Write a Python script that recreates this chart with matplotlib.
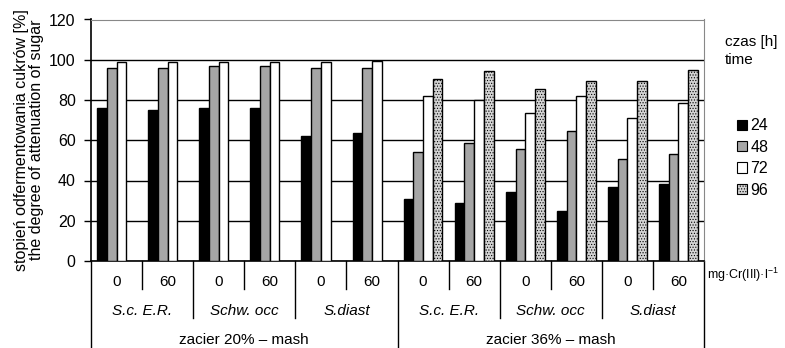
import matplotlib
matplotlib.use("Agg")
import matplotlib.pyplot as plt
import matplotlib.transforms as mtransforms
from matplotlib.patches import Patch
import numpy as np

plt.rcParams['font.family'] = ['Liberation Sans', 'DejaVu Sans']
plt.rcParams['hatch.color'] = '#808080'
plt.rcParams['hatch.linewidth'] = 0.5

# dawki Cr(III), drożdże, zaciery
doses = ["0", "60"] * 6
strains = ["S.c. E.R.", "Schw. occ", "S.diast"] * 2
mashes = ["zacier 20% – mash", "zacier 36% – mash"]
times = ["24", "48", "72", "96"]

# stopień odfermentowania [%] dla każdego czasu
v24 = [76, 75.2, 76, 76, 62, 63.5, 30.7, 28.7, 34.2, 24.6, 37, 38.4]
v48 = [96, 96, 96.7, 96.7, 96, 96, 54.3, 58.5, 55.6, 64.6, 50.8, 53]
v72 = [98.8, 98.8, 98.8, 98.8, 98.8, 99.5, 82, 80, 73.6, 82, 71.1, 78.5]
v96 = [np.nan] * 6 + [90.5, 94.2, 85.5, 89.2, 89.2, 94.7]

W, H = 785, 348
fig = plt.figure(figsize=(W / 100, H / 100), dpi=100)
ax = fig.add_axes([91 / W, 1 - 261 / H, 613 / W, 241.5 / H])

series = [v24, v48, v72, v96]
colors = ['black', '#a6a6a6', 'white', '#d4d4d4']
hatches = [None, None, None, '......']
n = len(doses)
x = np.arange(n)
bw = 0.19
gap = (1 - 4 * bw) / 2
for k, vals in enumerate(series):
    ax.bar(x + gap + bw * (k + 0.5), vals, width=bw, color=colors[k],
           edgecolor='black', linewidth=1, hatch=hatches[k], zorder=3)

ax.set_xlim(0, n)
ax.set_ylim(0, 120)
ax.set_yticks(range(0, 121, 20))
ax.tick_params(axis='y', labelsize=11.5, length=5, width=1, direction='out', pad=6)
ax.set_xticks([])
ax.yaxis.grid(True, color='black', linewidth=1, zorder=0)
ax.set_axisbelow(True)
for s in ['top', 'right']:
    ax.spines[s].set_color('#888888')
ax.spines['left'].set_linewidth(1.2)
ax.spines['bottom'].set_linewidth(1.2)

ax.set_ylabel("stopień odfermentowania cukrów [%]\nthe degree of attenuation of sugar",
              fontsize=11.5, linespacing=1.0, labelpad=4)

# opisy osi kategorii
tr = mtransforms.blended_transform_factory(ax.transData, fig.transFigure)

def fy(px):
    return 1 - px / H

for i in range(n + 1):
    if i % 6 == 0:
        bottom = H
    elif i % 2 == 0:
        bottom = 318
    else:
        bottom = 289
    ax.plot([i, i], [fy(261), fy(bottom)], color='black', linewidth=1,
            transform=tr, clip_on=False)

for i, d in enumerate(doses):
    ax.text(i + 0.5, fy(282), d, transform=tr, ha='center', va='center', fontsize=11)
for j, s in enumerate(strains):
    ax.text(2 * j + 1, fy(311), s, transform=tr, ha='center', va='center',
            fontsize=11, style='italic')
for j, m in enumerate(mashes):
    ax.text(6 * j + 3, fy(340), m, transform=tr, ha='center', va='center', fontsize=11)

fig.text(707 / W, fy(275), r"mg·Cr(III)·l$^{\mathregular{-1}}$", ha='left',
         va='center', fontsize=9)

fig.text(725 / W, fy(42), "czas [h]", ha='left', va='center', fontsize=11)
fig.text(725 / W, fy(60), "time", ha='left', va='center', fontsize=11)

handles = [Patch(facecolor=colors[k], edgecolor='black', hatch=hatches[k], linewidth=0.8)
           for k in range(4)]
fig.legend(handles, times, loc='center left', bbox_to_anchor=(737 / W, fy(158)),
           frameon=False, fontsize=11.5, handlelength=0.6, handleheight=0.6,
           handletextpad=0.25, labelspacing=0.4, borderpad=0, borderaxespad=0)

fig.savefig("out.png", dpi=100)
